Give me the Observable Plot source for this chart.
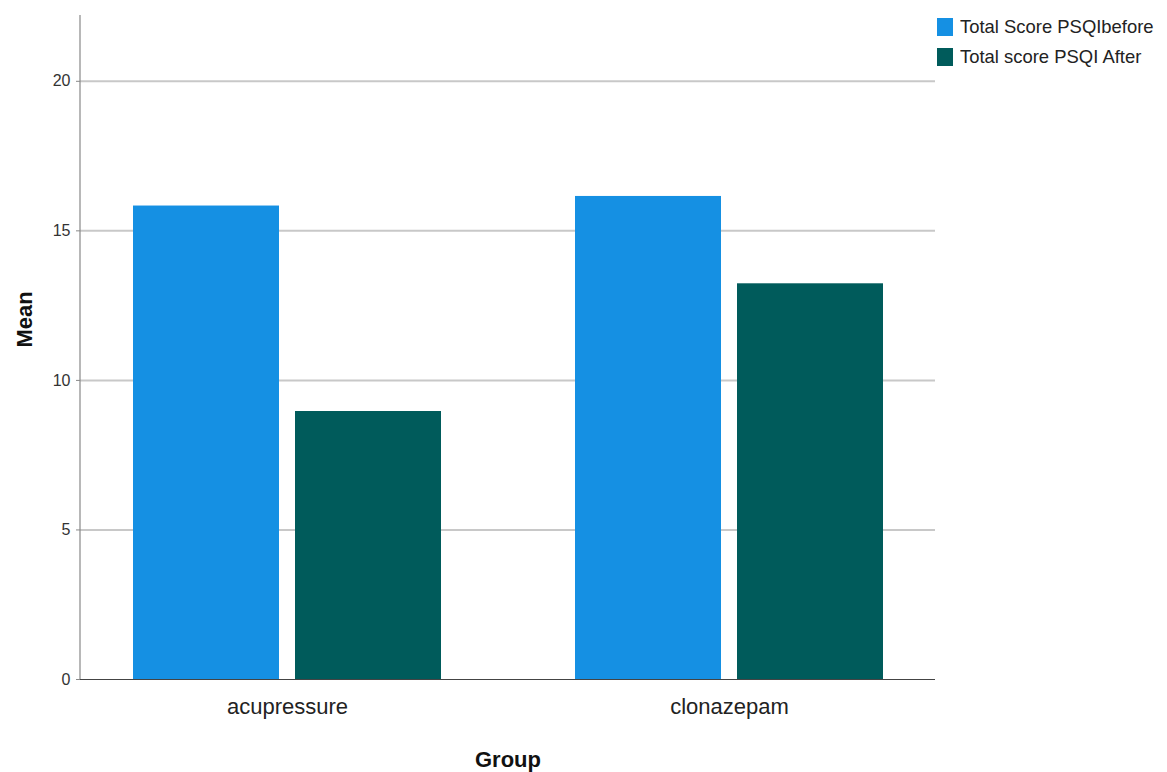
<!DOCTYPE html>
<html>
<head>
<meta charset="utf-8">
<script src="https://cdn.jsdelivr.net/npm/d3@7"></script>
<script src="https://cdn.jsdelivr.net/npm/@observablehq/plot@0.6"></script>
<style>
  html, body { margin: 0; padding: 0; background: #fff; }
  #wrap { position: relative; width: 1167px; height: 772px; }
  #legend { position: absolute; left: 937px; top: 17px; font-family: "Liberation Sans", Arial, sans-serif; font-size: 19px; color: #222; }
  .item { display: flex; align-items: center; height: 20px; margin-bottom: 10px; white-space: nowrap; }
  .sw { width: 16px; height: 18px; margin-right: 7px; }
  .lab { transform: scaleX(0.97); transform-origin: left center; display: inline-block; }
</style>
</head>
<body>
<div id="wrap"><div id="legend"></div></div>
<script>
const groups = ["acupressure", "clonazepam"];
const seriesNames = ["Total Score PSQIbefore", "Total score PSQI After"];
const beforeValues = [15.83, 16.15];
const afterValues = [8.96, 13.23];
const yTicks = [0, 5, 10, 15, 20];
const colors = ["#1590e3", "#005b5b"];

const data = groups.flatMap((g, i) => [
  {group: g, series: seriesNames[0], value: beforeValues[i]},
  {group: g, series: seriesNames[1], value: afterValues[i]}
]);

const font = "Liberation Sans, Arial, sans-serif";

const chart = Plot.plot({
  width: 1167,
  height: 772,
  marginLeft: 80,
  marginRight: 232,
  marginTop: 15,
  marginBottom: 93,
  style: {fontFamily: font, background: "white", color: "#333"},
  x: {domain: groups, paddingInner: 0.304, paddingOuter: 0.118, axis: null},
  y: {domain: [0, 22.2], axis: null},
  color: {domain: seriesNames, range: colors},
  marks: [
    Plot.ruleY(yTicks.filter(d => d > 0), {stroke: "#c8c8c8", strokeWidth: 2}),
    Plot.barY(data.filter(d => d.series === seriesNames[0]), {x: "group", y: "value", fill: "series", insetRight: 162}),
    Plot.barY(data.filter(d => d.series === seriesNames[1]), {x: "group", y: "value", fill: "series", insetLeft: 162}),
    Plot.ruleY([0], {stroke: "#444", strokeWidth: 1.2}),
    Plot.axisY(yTicks, {tickSize: 4, tickPadding: 6, fontSize: 16, label: null, stroke: "#888", fill: "#333"}),
    Plot.axisX(groups, {tickSize: 0, tickPadding: 19, fontSize: 22, label: null, fill: "#222"}),
    Plot.text(["Mean"], {frameAnchor: "left", dx: -56, rotate: -90, fontSize: 22, fontWeight: "bold", fill: "#111"}),
    Plot.text(["Group"], {frameAnchor: "bottom", dy: 87, fontSize: 22, fontWeight: "bold", fill: "#111"})
  ]
});

// left axis line, from the library's own scales
const xs = chart.scale("x").range;
const ys = chart.scale("y").range;
d3.select(chart).append("line")
  .attr("x1", xs[0]).attr("x2", xs[0])
  .attr("y1", ys[0]).attr("y2", ys[1])
  .attr("stroke", "#888").attr("stroke-width", 1.2);

document.getElementById("wrap").prepend(chart);

const legend = d3.select("#legend");
seriesNames.forEach((s, i) => {
  const it = legend.append("div").attr("class", "item");
  it.append("div").attr("class", "sw").style("background", colors[i]);
  it.append("span").attr("class", "lab").text(s);
});
</script>
</body>
</html>
